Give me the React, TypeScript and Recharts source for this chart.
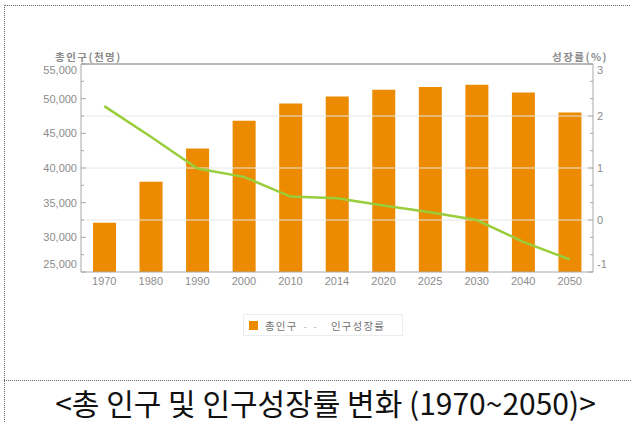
import { ComposedChart, Bar, Line, XAxis, YAxis, ReferenceLine, Legend } from 'recharts';

const years = ['1970', '1980', '1990', '2000', '2010', '2014', '2020', '2025', '2030', '2040', '2050'];
const population = [32100, 38000, 42800, 46800, 49300, 50300, 51300, 51700, 52000, 50900, 48000];
const growthRate = [2.19, 1.6, 0.99, 0.83, 0.45, 0.42, 0.28, 0.15, 0.0, -0.42, -0.76];

const leftTicks = [25000, 27500, 30000, 32500, 35000, 37500, 40000, 42500, 45000, 47500, 50000, 52500, 55000];
const rightTicks = [-1, -0.6667, -0.3333, 0, 0.3333, 0.6667, 1, 1.3333, 1.6667, 2, 2.3333, 2.6667, 3];
const gridValues = [0, 1, 2];

const data = years.map((year, i) => ({
  year,
  population: population[i],
  rate: growthRate[i],
}));

const tickFont = { fontFamily: 'Liberation Sans, Arial, sans-serif', fontSize: 11, fill: '#8c8c8c' };

function LeftTick(props: any) {
  const { x, y, payload } = props;
  const v = payload.value as number;
  const major = v % 5000 === 0;
  const dy = v === 55000 ? 10 : v === 25000 ? -4 : 4;
  return (
    <g>
      <line x1={x} x2={x + (major ? 5 : 3)} y1={y} y2={y} stroke="#a8a8a8" />
      {major && (
        <text x={x - 4} y={y} dy={dy} textAnchor="end" {...tickFont}>
          {v.toLocaleString('en-US')}
        </text>
      )}
    </g>
  );
}

function RightTick(props: any) {
  const { x, y, payload } = props;
  const v = payload.value as number;
  const major = Math.abs(v - Math.round(v)) < 0.01;
  const dy = v === 3 ? 10 : v === -1 ? -4 : 4;
  return (
    <g>
      <line x1={x - (major ? 5 : 3)} x2={x} y1={y} y2={y} stroke="#a8a8a8" />
      {major && (
        <text x={x + 4} y={y} dy={dy} textAnchor="start" {...tickFont}>
          {Math.round(v)}
        </text>
      )}
    </g>
  );
}

function LegendBox() {
  return (
    <div
      style={{
        width: 160,
        height: 22,
        border: '1px solid #ececec',
        display: 'flex',
        alignItems: 'center',
        fontFamily: 'Noto Sans CJK KR, sans-serif',
        fontSize: 10.5,
        color: '#707070',
        letterSpacing: 1.2,
        boxSizing: 'border-box',
      }}
    >
      <span style={{ width: 9, height: 9, background: '#ec8a00', marginLeft: 5, marginRight: 7 }} />
      <span>총인구</span>
      <span style={{ color: '#b5b5b5', marginLeft: 6, marginRight: 8, letterSpacing: 6 }}>--</span>
      <span>인구성장률</span>
    </div>
  );
}

const titleStyle = {
  position: 'absolute' as const,
  top: 49,
  fontFamily: 'Noto Sans CJK KR, sans-serif',
  fontWeight: 700,
  fontSize: 10.5,
  letterSpacing: 1.5,
  color: '#8a8a8a',
};

export default function App() {
  return (
    <div style={{ position: 'absolute', left: 0, top: 0, width: 631, height: 423, background: '#fff', overflow: 'hidden' }}>
      <div style={{ position: 'absolute', left: 4, top: 5, width: 627, height: 420, borderTop: '1px dotted #666', borderLeft: '1px dotted #666' }} />
      <div style={{ position: 'absolute', left: 4, top: 380, width: 627, borderTop: '1px dotted #666' }} />

      <div style={{ ...titleStyle, left: 55 }}>총인구(천명)</div>
      <div style={{ ...titleStyle, right: 23 }}>성장률(%)</div>

      <div style={{ position: 'absolute', left: 0, top: 0 }}>
        <ComposedChart width={631} height={423} data={data} margin={{ top: 64, right: 0, left: 0, bottom: 121 }}>
          <XAxis
            dataKey="year"
            height={30}
            tickSize={0}
            tickMargin={5}
            tick={tickFont}
            axisLine={{ stroke: '#a8a8a8' }}
            interval={0}
          />
          <YAxis
            yAxisId="left"
            orientation="left"
            width={81}
            domain={[25000, 55000]}
            ticks={leftTicks}
            interval={0}
            tickSize={0}
            tickMargin={0}
            tick={<LeftTick />}
            axisLine={{ stroke: '#a8a8a8' }}
          />
          <YAxis
            yAxisId="right"
            orientation="right"
            width={38}
            domain={[-1, 3]}
            ticks={rightTicks}
            interval={0}
            tickSize={0}
            tickMargin={0}
            tick={<RightTick />}
            axisLine={{ stroke: '#a8a8a8' }}
          />
          {gridValues.map((v) => (
            <ReferenceLine key={v} yAxisId="right" y={v} stroke="#e6e6e6" />
          ))}
          <ReferenceLine yAxisId="right" y={3} stroke="#a0a0a0" strokeWidth={1.5} />
          <Bar yAxisId="left" dataKey="population" name="총인구" fill="#ec8a00" barSize={23} isAnimationActive={false} />
          <Line
            yAxisId="right"
            dataKey="rate"
            name="인구성장률"
            type="linear"
            stroke="#9acd3c"
            strokeWidth={2.5}
            dot={false}
            activeDot={false}
            isAnimationActive={false}
          />
          <Legend
            layout="horizontal"
            align="center"
            verticalAlign="middle"
            wrapperStyle={{ left: 243, top: 314, width: 162 }}
            content={() => <LegendBox />}
          />
        </ComposedChart>
      </div>

      <div
        style={{
          position: 'absolute',
          left: 10,
          top: 382,
          width: 631,
          textAlign: 'center',
          fontFamily: 'Noto Sans CJK KR, sans-serif',
          fontSize: 30,
          lineHeight: '40px',
          color: '#111',
          letterSpacing: 0,
        }}
      >
        &lt;총 인구 및 인구성장률 변화 (1970~2050)&gt;
      </div>
    </div>
  );
}
